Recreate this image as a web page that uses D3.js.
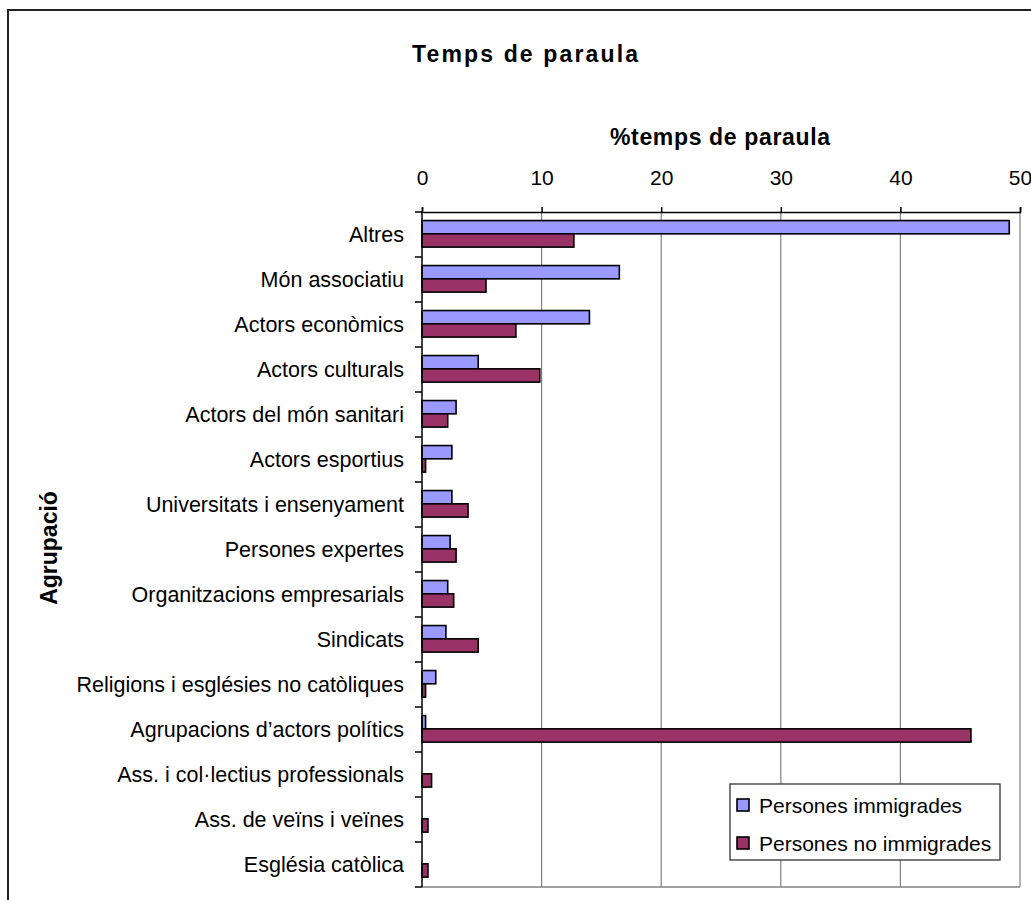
<!DOCTYPE html>
<html>
<head>
<meta charset="utf-8">
<script src="https://cdn.jsdelivr.net/npm/d3@7"></script>
<style>
  body { margin: 0; background: #fff; }
  text { font-family: "Liberation Sans", Arial, sans-serif; }
</style>
</head>
<body>
<div id="chart"></div>
<script>
// categories (top to bottom)
const categories = [
  "Altres",
  "Món associatiu",
  "Actors econòmics",
  "Actors culturals",
  "Actors del món sanitari",
  "Actors esportius",
  "Universitats i ensenyament",
  "Persones expertes",
  "Organitzacions empresarials",
  "Sindicats",
  "Religions i esglésies no catòliques",
  "Agrupacions d’actors polítics",
  "Ass. i col·lectius professionals",
  "Ass. de veïns i veïnes",
  "Església catòlica",
];

const seriesNames = ["Persones immigrades", "Persones no immigrades"];

const immigrades = [49.1, 16.5, 14.0, 4.7, 2.85, 2.5, 2.5, 2.35, 2.15, 2.0, 1.15, 0.3, 0, 0, 0];
const noImmigrades = [12.7, 5.35, 7.85, 9.85, 2.15, 0.3, 3.85, 2.85, 2.65, 4.7, 0.3, 45.9, 0.8, 0.5, 0.5];

const xTicks = [0, 10, 20, 30, 40, 50];

const colors = ["#9999ff", "#993366"];

const createChart = () => {
  var width = 1031;
  var height = 900;
  var plot = { left: 422, right: 1020, top: 212, bottom: 887 };

  var svg = d3
    .select("#chart")
    .append("svg")
    .attr("width", width)
    .attr("height", height);

  // outer chart border
  svg
    .append("rect")
    .attr("x", 8)
    .attr("y", 10)
    .attr("width", 1040)
    .attr("height", 900)
    .attr("fill", "none")
    .attr("stroke", "#222")
    .attr("stroke-width", 2);

  var data = categories.map((c, i) => {
    return { name: c, values: [immigrades[i], noImmigrades[i]] };
  });

  var x = d3.scaleLinear().domain([0, 50]).range([plot.left, plot.right]);

  var y0 = d3
    .scaleBand()
    .domain(categories)
    .range([plot.top, plot.bottom])
    .padding(0);

  var y1 = d3
    .scaleBand()
    .domain([0, 1])
    .range([y0.bandwidth() * 0.19, y0.bandwidth() * 0.78]);

  // gridlines
  svg
    .append("g")
    .selectAll("line")
    .data(xTicks.slice(1))
    .enter()
    .append("line")
    .attr("x1", (d) => x(d))
    .attr("x2", (d) => x(d))
    .attr("y1", plot.top)
    .attr("y2", plot.bottom)
    .attr("stroke", "#808080")
    .attr("stroke-width", 1.2);

  // bottom border of plot area
  svg
    .append("line")
    .attr("x1", plot.left)
    .attr("x2", plot.right)
    .attr("y1", plot.bottom)
    .attr("y2", plot.bottom)
    .attr("stroke", "#808080")
    .attr("stroke-width", 1.5);

  // bars
  var groups = svg
    .append("g")
    .selectAll("g")
    .data(data)
    .enter()
    .append("g")
    .attr("transform", (d) => "translate(0," + y0(d.name) + ")");

  groups
    .selectAll("rect")
    .data((d) => d.values.map((v, i) => ({ v: v, i: i })).filter((e) => e.v > 0))
    .enter()
    .append("rect")
    .attr("x", x(0))
    .attr("y", (d) => y1(d.i))
    .attr("width", (d) => x(d.v) - x(0))
    .attr("height", y1.bandwidth())
    .attr("fill", (d) => colors[d.i])
    .attr("stroke", "#000")
    .attr("stroke-width", 1.6);

  // top value axis
  var xAxis = d3
    .axisTop(x)
    .tickValues(xTicks)
    .tickSize(5)
    .tickPadding(22)
    .tickFormat(d3.format("d"));

  var gx = svg
    .append("g")
    .attr("transform", "translate(0," + plot.top + ")")
    .call(xAxis);
  gx.select(".domain").attr("stroke", "#000").attr("stroke-width", 1.5);
  gx.selectAll(".tick line").attr("stroke", "#000").attr("stroke-width", 1.5);
  gx.selectAll("text")
    .attr("fill", "#000")
    .style("font-size", "21px")
    .style("font-family", "'Liberation Sans', Arial, sans-serif");

  // left category axis
  var gy = svg
    .append("g")
    .attr("transform", "translate(" + plot.left + ",0)");

  gy.append("line")
    .attr("x1", 0)
    .attr("x2", 0)
    .attr("y1", plot.top)
    .attr("y2", plot.bottom)
    .attr("stroke", "#000")
    .attr("stroke-width", 1.5);

  gy.selectAll(".ytick")
    .data(d3.range(categories.length + 1))
    .enter()
    .append("line")
    .attr("x1", -7)
    .attr("x2", 0)
    .attr("y1", (d) => plot.top + d * y0.step())
    .attr("y2", (d) => plot.top + d * y0.step())
    .attr("stroke", "#000")
    .attr("stroke-width", 1.5);

  gy.selectAll("text")
    .data(categories)
    .enter()
    .append("text")
    .attr("x", -18)
    .attr("y", (d) => y0(d) + y0.bandwidth() / 2)
    .attr("dy", "0.36em")
    .attr("text-anchor", "end")
    .style("font-size", "21.5px")
    .text((d) => d);

  // titles
  svg
    .append("text")
    .attr("x", 412)
    .attr("y", 62)
    .attr("textLength", 226)
    .attr("lengthAdjust", "spacing")
    .style("font-size", "23px")
    .style("font-weight", "bold")
    .text("Temps de paraula");

  svg
    .append("text")
    .attr("x", 610)
    .attr("y", 145)
    .attr("textLength", 220)
    .attr("lengthAdjust", "spacing")
    .style("font-size", "23px")
    .style("font-weight", "bold")
    .text("%temps de paraula");

  svg
    .append("text")
    .attr("transform", "translate(57,548) rotate(-90)")
    .attr("text-anchor", "middle")
    .style("font-size", "23px")
    .style("font-weight", "bold")
    .text("Agrupació");

  // legend
  var legend = svg.append("g").attr("transform", "translate(730,784)");
  legend
    .append("rect")
    .attr("width", 270)
    .attr("height", 76)
    .attr("fill", "#fff")
    .attr("stroke", "#222")
    .attr("stroke-width", 1.2);

  var items = legend
    .selectAll(".item")
    .data(seriesNames)
    .enter()
    .append("g")
    .attr("transform", (d, i) => "translate(7," + (21 + i * 38) + ")");

  items
    .append("rect")
    .attr("x", 0)
    .attr("y", -6)
    .attr("width", 12)
    .attr("height", 12)
    .attr("fill", (d, i) => colors[i])
    .attr("stroke", "#000")
    .attr("stroke-width", 1.6);

  items
    .append("text")
    .attr("x", 22)
    .attr("y", 0)
    .attr("dy", "0.36em")
    .style("font-size", "21px")
    .text((d) => d);
};

createChart();
</script>
</body>
</html>
